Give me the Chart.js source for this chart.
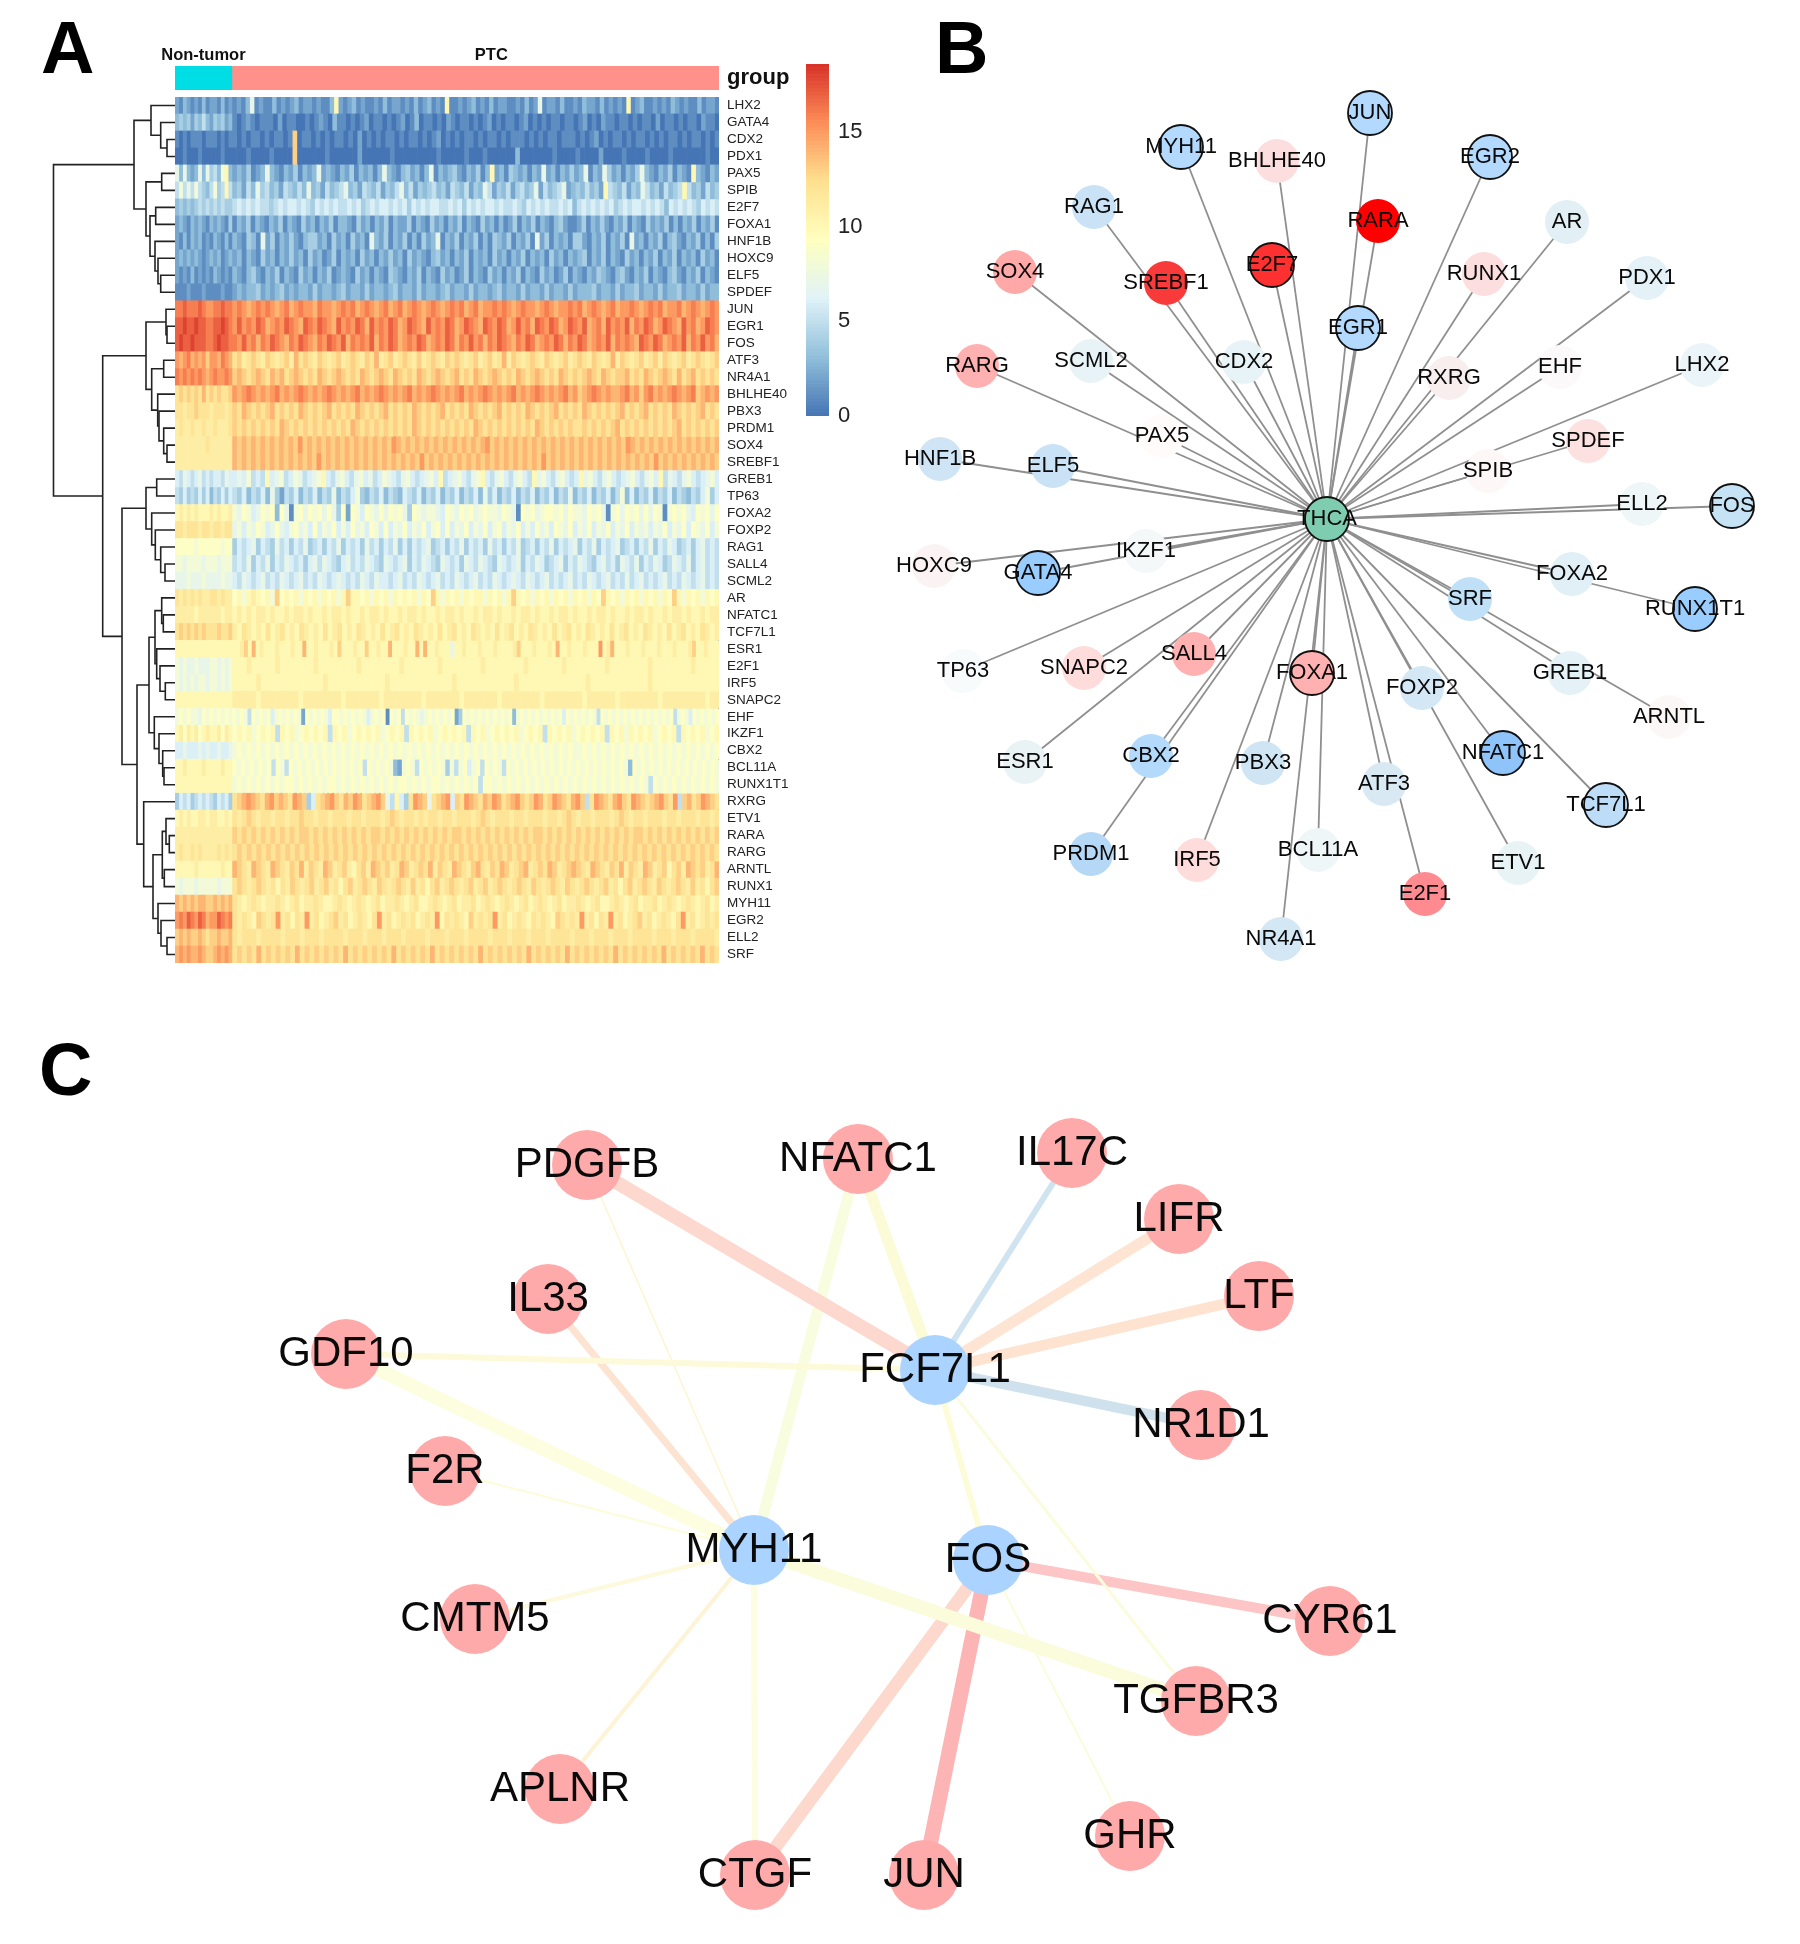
<!DOCTYPE html>
<html>
<head>
<meta charset="utf-8">
<title>Heatmap and networks</title>
<script src="https://cdn.jsdelivr.net/npm/chart.js@4/dist/chart.umd.min.js"></script>
<style>
  body { margin: 0; background: #fff; }
  #page { position: relative; width: 1800px; height: 1944px; overflow: hidden; font-family: "Liberation Sans", sans-serif; }
  #page canvas { position: absolute; }
  .letter { position: absolute; font-size: 74px; line-height: 74px; font-weight: bold; color: #000; }
</style>
</head>
<body>
<div id="page">
  <div class="letter" style="left:41px;top:11px">A</div>
  <div class="letter" style="left:935px;top:11px">B</div>
  <div class="letter" style="left:39px;top:1033px">C</div>
  <canvas id="dendro" width="135" height="866" style="left:40px;top:97px"></canvas>
  <canvas id="group" width="700" height="50" style="left:135px;top:40px"></canvas>
  <canvas id="heat" width="660" height="866" style="left:175px;top:97px"></canvas>
  <canvas id="scale" width="100" height="380" style="left:806px;top:50px"></canvas>
  <canvas id="netB" width="950" height="1000" style="left:850px;top:0"></canvas>
  <canvas id="netC" width="1800" height="944" style="left:0;top:1000px"></canvas>
</div>
<script>
Chart.defaults.font.family = '"Liberation Sans", sans-serif'
Chart.defaults.devicePixelRatio = 1
Chart.defaults.animation = false
Chart.defaults.responsive = false
Chart.defaults.plugins.legend.display = false
Chart.defaults.plugins.tooltip.enabled = false
Chart.defaults.events = []
Chart.defaults.layout.autoPadding = false

// panel A
const genes = ['LHX2', 'GATA4', 'CDX2', 'PDX1', 'PAX5', 'SPIB', 'E2F7', 'FOXA1', 'HNF1B', 'HOXC9', 'ELF5', 'SPDEF',
  'JUN', 'EGR1', 'FOS', 'ATF3', 'NR4A1', 'BHLHE40', 'PBX3', 'PRDM1', 'SOX4', 'SREBF1', 'GREB1', 'TP63', 'FOXA2',
  'FOXP2', 'RAG1', 'SALL4', 'SCML2', 'AR', 'NFATC1', 'TCF7L1', 'ESR1', 'E2F1', 'IRF5', 'SNAPC2', 'EHF', 'IKZF1',
  'CBX2', 'BCL11A', 'RUNX1T1', 'RXRG', 'ETV1', 'RARA', 'RARG', 'ARNTL', 'RUNX1', 'MYH11', 'EGR2', 'ELL2', 'SRF']
const groupNames = ['Non-tumor', 'PTC']
const groupCounts = [59, 505]
const colorbarTicks = [0, 5, 10, 15]
const colorbarMax = 18.6

// expression per gene, read column by column, one base-19 digit each (a=10 ... i=18); non-tumor block, space, PTC block
const heatRows = [
  '213212131221312 12137121131212312212113a212312112131221213123121a1121231213122112131271221311213221312121a12311212132121131221',
  '343424353243423 10121011102011001012103110101201101012013011010210110101201011012010101101101201021101101011020110101102110',
  '101011101110101 1010110101101d0110101011010201010110101101012010101101011010111010101101110101201011010110101011010110101',
  '001000100000100 0001000010000d0000001000000200000010000000001000001000100000030000000100001000020000100001000010000000100',
  '7373237374538a3 2324123732132413237232132413231373213423137132342132413a231432313272313242371327423132473213241321a32132',
  '5857585435845a5 34253745342543537342534573425435243573524345342543524375243524534725345723435342a5435243753425345a5342534',
  '343434545454544 5656565545656656546565655656456566565646565665565646565665655654656565565635656565645656656565365656546565',
  '232132321323214 1324132132413214231324133214231324132241321423132413214231312413241321342112413242132413214232413132413241',
  '213132312132131 3214317241324213442314231423173241324131423713241324131432413241724132314421324132417231324134213241314',
  '232323212323123 2313214231324231423124132314231324231423213423132413231423132413231423132341324132142313241324132314231',
  '212131212132121 3213421324132142313241232142313214321324132142312413214231324132142312413213243213421324132134213241321',
  '111211121111211 2323342323423233242332342332423323423324233234233242332342332423324233242333423324233423324233423324233',
  'gghggghgffgghgg fgfefgfgfefgefgffegffefgfgefgfefgefgefgfefgfefgfgefgeffgfgfefgffefgfeffgfgefgfefgeffgfefgfgeffgefgfefgf',
  'hhihhihhgghhihg fhfgfhgefgfhgfehgfhgfehfgfhgehfgfhgefhgfehfgfhgefhgfehgfhgefhfgehgfhgefhgfhefgehfgfhegfhgefhgfehfgefhgf',
  'hihhihhhgghihhg gfhfgegfhgfegfhgfegfhgfhegfgfhegfhgefgfhgefgfhgegfhfgegfhgfegfhgefgfhgegfhgefgfhegfgfehgfhgefgfhegfhfge',
  'fefgefefdffegfe cdbcdcbdcbcdbecdcbdcbcdbcdcbdcebcdbcdcbdbcdcbdcdcbcdbcdbcebdcbcdcbdcbcdbcdcbdcbcebdcbcdbcdbdcbcdbcdcbcd',
  'gfgfgfgfefgffgf dedcdedcedecdedcdcedcdedcdcedcdedcedcdcedcdedcdecdcedcdedcdcedcdedcdcedcdcdedcedcddecdcedcdedcecdecdcdc',
  'cdcdcdcecdcdccd fefgfefefgefefgfefefgfefefgefefgfefefgefefgfefefgefefgfefefgefefgfefefgefdefgfefeefgefdfgefefgfefgdefef',
  'ccbccdcccbcccbc dcedcdcdecdcdcedcdcdecdcdcedcdcdecdcdcedcdcdecdcdcedcdcdecdcdcedcdcdecdcdcedcdcdcdecdcdecdcdcedcdcdecdc',
  'bcbbcbbcbbcbbbc dcdcdcdcdcedcdcdcdcdcdcdcedcdcdcdcdcdcedcdcdcdcdcdcedcdcdcdcdcdcedcdcdcdccdcdcdcdecdcdcdcdcdcdecdcdcdcd',
  'bbbbbbbbcbbbbbb edededededededfdedededededededededfedededededededededefdededededededededededededededfededededededededede',
  'bbbbbbbbbbbbbbb edededededededededfdededededededededededfdededededededededededededfdedededededededededededfdedededededed',
  '657656756566576 6768565a67856875678a657865786756876578656786a56786578a6578657865a786578656a7865786567865786a576578656786',
  '546454646354646 5463546374254635463547354684354635436546354635463546374635463546354635473546354635836354635463543546846',
  'abababaaababaab 8798679893971897989797492986987979897498788769879897898879871989789989798879897189798979798189897698979',
  'ccbcccbccbccbcc 7868798679768978696879686978698696879687968969687968796896879686978698796879687968796878687968796987968',
  '999998999999899 4656746547564657456465746564756465746465674564657465647564657456465746567465746567456465746576456467565',
  '887888878887888 5657465746576564675765467565765476567465765476564765765476567465764567465765467564765746576457657467565',
  '777877787777877 6576567565765675657656765657657665675657656756576567565765676576567565675657656756575675656756576567565',
  'cbcbcbcbbccbcbb 9a8aba9a8d9a9a8a9a8a9a8adaa9a8a9a8a9a9a8a9da8a9a8a9aa8a9a8ada9a8a9a8a9a8a9a8a9da9a8a9a8a9a8a9da8a9a8a9a',
  'bbbbbabbbbbbabb abababbabaababbabaababbabaababbabaababbabaababbabaababbabaababbabaababbabaababbabaababbabaababbabaababb',
  'cdcdcdcdcccdccd bacbabacabcabacbabacabcabacbabacabcabacbabacabcabacbabacabcabacbabacabcabacbabacabcabacbabacabcabacbab',
  'aaaaaaaaaaaaaaa aabdaeabaaabaaabaaeaabaaabadaaabaadaabaaeaaabaaeaeaabaaa7aabaaabaaabaaaabdaaabaaabaeaabaaabaaafabeaaabaaabaaabaaabaaabdaabaaa',
  '878778777887878 aaabaaaaabaaaaaaabaaaaaaaabaaaaaaaabaaaaaaabaaaaaaaabaaaaaaaabaaaaaaabaaaaaaaabaaaaaaaabaaaaaaaabaaaaa',
  '878787887887878 aaaaabaaaaaaaaaaaaabaaaaaaaaaaaabaaaaaaaaaaaaabaaaaaaaaaaaabaaaaaaaaaaaaaabaaaaaaaaaaaabaaaaaaaaaaaaaa',
  'aaaaaaaaaaaaaaa bbbbbabbbbbbbbabbbbbbbbabbbbbbbabbbbbbbbabbbbbbbabbbbbbbabbbbbbbbabbbbbbbbabbbbbbabbbbbbbbabbbbbbbbbabb',
  '898988798989898 9898598989689898982989898699898989868989198959898789898989249898989898989389898989898969898989859898989898989898989589869898989',
  'ab9bab9abaab9ba 9a9a89a9a5a9a89a9a9a5a9a89a9a9a89a9a5a9a9a89a9a9a5a9a89a9a9a89a9a5a9a9a89a9a9a5a9a8a9a9a89a9a5a9a9a89a',
  '667666767667667 8989898989898989898989898989898989898989898989898989898989898989898989898898989898989898989898989898989',
  'aabaaaabaaaabaa 9898989895985989898989898989895989898328985989898485896895989859898989898989898989898989898398989898989898989898',
  'aaaaaaaaaaaaaaa 8989898989899898989899898989898989899898989989898989599898989898989898989898989898989898598989898989898',
  '465645656546564 cdefedcefdedcfed46cdefdcedfecdefd75a64cfed7cdef6dcfedcedfecdefdcdfecdfedcefd5cfedcefdcfedcdefdcf5decdfedc',
  'ababaabbabbaaba cbcdcbccbccbccdccbccbcccbccbcccbcdcbccbcbccbccbcccbcdcbcccbccbcccbccbcdcbccbcccbcdcbccbcccbccbcccbccbc',
  'bbbbbbbbbbbbbbb dcdcdcdcdcdcdcddcdcdcdcdcdcdcddcdcdcdcdcdcdcdcddcdcdcdcdcdcdcdcddcdcdcdcdcdcdcdcdcdcddcdcdcdcdcdcdcdcd',
  'bcbbcbcbbbbcbcb cdcdcdcdcdcdcdcdcdcdcdcdcdcdcdcdcdcdcdcdcdcdcdcdcdcdcdcdcdcdcdcdcdcdcdcdcdcdcdcdcdcdcdcdcdcdcdcdcdcdc',
  'aaaaabaaaaaabaa edcbedcbedcbdcebdcbedbcdbacdbedcdbcedbcdcebdcbedcbdecbdcedbcdebcdcedbcdedcbedcbdcebdcbedbcdacdbedcdbce',
  '878887888887888 cdcbcdcbcacbdcbcdbcdbcacdbcdcbdcbcdcbdbcacdbcdcbcdbcdbcdcbcdcbdcbcdcbdcbcdcbcdbcacdbcdcbdcbcdcbdbcacd',
  'edededeeddedede cbabcbabbcbabcabbcbaabcbabcbabcabbcbabcaabcbabcabbcabcbabcbabcabcbabcabbcbabcaabcbabcabbcabcbabcbabcab',
  'fgfhgfhgeffhgfg cbcbadcbcfbcacbfbcabcdbcabcbacfbcabcbcabcbfacbcbadbcbcfbcabcbacbcbadcbcbfbcacbfbcabcdbcabcbacfbcabcbc',
  'dededdedcddedde cbcccbccccbcccbcccbccccbcccbcccbcccbccccbcccbcccbccccbcccbcccbcccbccccbcccbcccbcccbccccbcccbcccbccccb',
  'efefeefeddefefe cdcdcecdcdcdcecdcdcdcdcecdcdcdcdcecdcdcdcecdcdcdcdcecdcdcdcdcecdcdcdcecdcdcdcdcecdcdcdcdcecdcdcdcecdc'
]

// cluster tree over the rows, top to bottom: [height, upper, lower], null is a leaf
const rowTree = [53.5,
  [134,
    [151, null, [160.7, null, [167, null, null]]],
    [146, [161.7, null, null], [150, [155.7, null, null], [155, null, [158, null, [160.7, null, null]]]]]],
  [102.7,
    [146,
      [166, null, [167, null, null]],
      [151.7, [163.7, null, null], [157.7, null, [159, null, [163.7, null, [167, null, null]]]]]],
    [122,
      [146,
        [156.7, null, null],
        [151.7, null, [155.3, null, [160.7, null, [165, null, null]]]]],
      [137,
        [149,
          [155, [161.7, null, [163.3, null, null]], [156.7, null, [160, null, [165.3, null, null]]]],
          [154.3, null, [159, null, [162.7, null, [164, null, null]]]]],
        [143.7,
          null,
          [153,
            [162.3, [166, null, [169.3, null, null]], [164.3, null, null]],
            [158, null, [161, null, [167, null, null]]]]]]]]]

// panel B
const bHub = { name: 'THCA', x: 1327, y: 519 }
const bNames = ['JUN', 'MYH11', 'BHLHE40', 'EGR2', 'RAG1', 'RARA', 'AR', 'E2F7', 'SOX4', 'SREBF1', 'RUNX1', 'PDX1',
  'EGR1', 'SCML2', 'CDX2', 'RXRG', 'EHF', 'LHX2', 'RARG', 'PAX5', 'SPDEF', 'SPIB', 'HNF1B', 'ELF5', 'ELL2', 'FOS',
  'IKZF1', 'HOXC9', 'GATA4', 'SRF', 'FOXA2', 'RUNX1T1', 'TP63', 'SNAPC2', 'SALL4', 'FOXA1', 'FOXP2', 'GREB1',
  'ARNTL', 'ESR1', 'CBX2', 'PBX3', 'ATF3', 'NFATC1', 'TCF7L1', 'PRDM1', 'IRF5', 'BCL11A', 'E2F1', 'ETV1', 'NR4A1']
const bX = [1370, 1181, 1277, 1490, 1094, 1378, 1567, 1272, 1015, 1166, 1484, 1647,
  1358, 1091, 1244, 1449, 1560, 1702, 977, 1162, 1588, 1488, 940, 1053, 1642, 1732,
  1146, 934, 1038, 1470, 1572, 1695, 963, 1084, 1194, 1312, 1422, 1570,
  1669, 1025, 1151, 1263, 1384, 1503, 1606, 1091, 1197, 1318, 1425, 1518, 1281]
const bY = [113, 147, 161, 157, 207, 221, 222, 265, 272, 283, 274, 278,
  328, 361, 362, 378, 367, 365, 366, 436, 441, 471, 459, 466, 504, 506,
  551, 566, 573, 599, 574, 609, 671, 668, 654, 673, 688, 673,
  717, 762, 756, 763, 784, 753, 805, 854, 860, 850, 894, 863, 939]
const bFill = ['#b3d9ff', '#b3d9ff', '#fddede', '#b3d9ff', '#c9e2f5', '#ff0000', '#e2f0f6', '#ff3030', '#ffa8a8', '#f83a3a', '#fddede', '#e4f1f7',
  '#b3d9ff', '#e8f3f8', '#e8f3f8', '#f8eeee', '#fbf9f9', '#ebf4f8', '#ffb0b0', '#fffbfb', '#fde0e0', '#fdf7f7', '#cfe5f5', '#c9e2f5', '#eef6f8', '#c6e2f5',
  '#f4f8f8', '#fbf3f3', '#99ccff', '#bfe0f7', '#e1eff6', '#99ccff', '#f8fbfb', '#ffdcdc', '#ffb0b0', '#ffb0b0', '#d3e7f5', '#e4f1f6',
  '#fcf7f7', '#e9f3f6', '#b3d9fb', '#cfe5f4', '#d8e9f4', '#8fc4fb', '#bddcf7', '#b5d8f6', '#ffdcdc', '#eef6f8', '#ff8a8f', '#e8f3f6', '#d3e7f5']
const bRinged = ['JUN', 'MYH11', 'EGR2', 'E2F7', 'EGR1', 'FOS', 'GATA4', 'RUNX1T1', 'FOXA1', 'NFATC1', 'TCF7L1']

// panel C
const cNames = ['FCF7L1', 'MYH11', 'FOS', 'PDGFB', 'NFATC1', 'IL17C', 'LIFR', 'LTF', 'IL33', 'GDF10', 'NR1D1', 'F2R',
  'CMTM5', 'CYR61', 'TGFBR3', 'APLNR', 'CTGF', 'JUN', 'GHR']
const cX = [935, 754, 988, 587, 858, 1072, 1179, 1259, 548, 346, 1201, 445, 475, 1330, 1196, 560, 755, 924, 1130]
const cY = [1370, 1550, 1560, 1165, 1159, 1153, 1219, 1296, 1299, 1354, 1425, 1471, 1619, 1621, 1701, 1789, 1875, 1875, 1836]
const cHubs = ['FCF7L1', 'MYH11', 'FOS']
const cEdgeFrom = ['FCF7L1', 'FCF7L1', 'FCF7L1', 'FCF7L1', 'FCF7L1', 'FCF7L1', 'FCF7L1', 'FCF7L1', 'FCF7L1',
  'MYH11', 'MYH11', 'MYH11', 'MYH11', 'MYH11', 'MYH11', 'MYH11', 'MYH11', 'MYH11',
  'FOS', 'FOS', 'FOS', 'FOS']
const cEdgeTo = ['PDGFB', 'NFATC1', 'IL17C', 'LIFR', 'LTF', 'NR1D1', 'GDF10', 'FOS', 'TGFBR3',
  'GDF10', 'IL33', 'PDGFB', 'NFATC1', 'F2R', 'CMTM5', 'APLNR', 'CTGF', 'TGFBR3',
  'CYR61', 'JUN', 'CTGF', 'GHR']
const cEdgeWeight = [14, 11, 6, 11, 11, 10, 6, 6, 3, 14, 7, 1.5, 11, 2, 4, 4, 6, 14, 10, 15, 13, 2]
const cEdgeColor = ['#fdd8cf', '#fbfbd8', '#cfe3f0', '#fee5d3', '#fee3d0', '#cfe1ec', '#fdfad9', '#fdfcd8', '#fbfcdd',
  '#fdfde0', '#fde3d1', '#fdf5d0', '#f9fde0', '#fcfcd8', '#fdf9dc', '#fdf3d6', '#fdfde2', '#fbfcdc',
  '#fdc5c5', '#fdb4b4', '#fdd8cd', '#fbfcdc']

// RdYlBu ramp used by the heatmap and its colour bar
const ramp = ['#4575b4', '#91bfdb', '#e0f3f8', '#ffffbf', '#fee090', '#fc8d59', '#d73027']
function heatColor (v) {
  const t = Math.min(v / colorbarMax, 1) * (ramp.length - 1)
  const i = Math.min(Math.floor(t), ramp.length - 2)
  const mix = (p) => {
    const a = parseInt(ramp[i].substr(p, 2), 16)
    const b = parseInt(ramp[i + 1].substr(p, 2), 16)
    return Math.round(a + (b - a) * (t - i))
  }
  return 'rgb(' + mix(1) + ',' + mix(3) + ',' + mix(5) + ')'
}

// fixes the right axis width and drops its label overhang so the plot areas line up
const fixedWidth = (w) => (scale) => {
  scale.width = w
  scale.paddingTop = 0
  scale.paddingBottom = 0
}

const totalSamples = groupCounts[0] + groupCounts[1]
const rowBlocks = heatRows.map((r) => r.split(' ').map((b) => b.split('').map((c) => parseInt(c, 19))))
const columnCount = Math.max(...rowBlocks.map((r) => r[0].length + r[1].length))
const heatDatasets = []
for (let c = 0; c < columnCount; c++) {
  heatDatasets.push({
    // each block spans its own group's samples
    data: rowBlocks.map(([nt, ptc]) => {
      if (c < nt.length) return groupCounts[0] / nt.length
      return c - nt.length < ptc.length ? groupCounts[1] / ptc.length : 0
    }),
    backgroundColor: rowBlocks.map(([nt, ptc]) => heatColor(c < nt.length ? nt[c] : (ptc[c - nt.length] || 0))),
    borderWidth: 0,
    barPercentage: 1,
    categoryPercentage: 1
  })
}

new Chart(document.getElementById('heat'), {
  type: 'bar',
  data: { labels: genes, datasets: heatDatasets },
  options: {
    indexAxis: 'y',
    layout: { padding: 0 },
    scales: {
      x: { stacked: true, min: 0, max: totalSamples, display: false },
      y: {
        stacked: true,
        position: 'right',
        grid: { display: false, drawTicks: false },
        border: { display: false },
        afterFit: fixedWidth(116),
        ticks: { autoSkip: false, padding: 8, color: '#222', font: { size: 13.5 } }
      }
    }
  }
})

new Chart(document.getElementById('group'), {
  type: 'bar',
  data: {
    labels: ['group'],
    datasets: [
      { data: [groupCounts[0]], backgroundColor: '#00dde4', barPercentage: 1, categoryPercentage: 1 },
      { data: [groupCounts[1]], backgroundColor: '#ff918a', barPercentage: 1, categoryPercentage: 1 }
    ]
  },
  options: {
    indexAxis: 'y',
    layout: { padding: { top: 26, left: 40 } },
    scales: {
      x: { stacked: true, min: 0, max: totalSamples, display: false },
      y: {
        stacked: true,
        position: 'right',
        grid: { display: false, drawTicks: false },
        border: { display: false },
        afterFit: fixedWidth(116),
        ticks: { padding: 8, color: '#111', font: { size: 22, weight: 'bold' } }
      }
    }
  },
  plugins: [{
    id: 'groupTitles',
    afterDraw (chart) {
      const { ctx, scales } = chart
      ctx.save()
      ctx.font = 'bold 16.5px "Liberation Sans"'
      ctx.fillStyle = '#111'
      ctx.textAlign = 'center'
      ctx.textBaseline = 'middle'
      ctx.fillText(groupNames[0], scales.x.getPixelForValue(groupCounts[0] / 2), 15)
      ctx.fillText(groupNames[1], scales.x.getPixelForValue(328), 15)
      ctx.restore()
    }
  }]
})

const scaleDatasets = []
for (let i = 0; i < 100; i++) {
  scaleDatasets.push({
    data: [colorbarMax / 100],
    backgroundColor: heatColor((i + 0.5) * colorbarMax / 100),
    borderWidth: 0,
    barPercentage: 1,
    categoryPercentage: 1
  })
}
new Chart(document.getElementById('scale'), {
  type: 'bar',
  data: { labels: ['scale'], datasets: scaleDatasets },
  options: {
    layout: { padding: { top: 14, bottom: 14 } },
    scales: {
      x: { stacked: true, display: false },
      y: {
        stacked: true,
        position: 'right',
        min: 0,
        max: colorbarMax,
        afterBuildTicks: (axis) => { axis.ticks = colorbarTicks.map((v) => ({ value: v })) },
        afterFit: fixedWidth(77),
        grid: { display: false, drawTicks: false },
        border: { display: false },
        ticks: { padding: 9, color: '#222', font: { size: 22 } }
      }
    }
  }
})

// walks the tree and gives one bracket per merge
function treeBrackets (node, state, out) {
  if (node === null) {
    state.row += 1
    return { x: 175, y: state.row - 0.5 }
  }
  const a = treeBrackets(node[1], state, out)
  const b = treeBrackets(node[2], state, out)
  out.push([{ x: a.x, y: a.y }, { x: node[0], y: a.y }, { x: node[0], y: b.y }, { x: b.x, y: b.y }])
  return { x: node[0], y: (a.y + b.y) / 2 }
}
const brackets = []
treeBrackets(rowTree, { row: 0 }, brackets)

new Chart(document.getElementById('dendro'), {
  type: 'scatter',
  data: {
    datasets: brackets.map((b) => ({
      data: b, showLine: true, borderColor: '#222', borderWidth: 1.6, pointRadius: 0, clip: false
    }))
  },
  options: {
    layout: { padding: 0 },
    scales: {
      x: { type: 'linear', min: 40, max: 175, display: false },
      y: { type: 'linear', min: 0, max: genes.length, reverse: true, display: false }
    }
  }
})

const nodeLabels = {
  id: 'nodeLabels',
  afterDatasetsDraw (chart, args, opts) {
    const { ctx } = chart
    const nodes = chart.getDatasetMeta(0).data
    ctx.save()
    ctx.font = opts.size + 'px "Liberation Sans"'
    ctx.fillStyle = '#0a0a0a'
    ctx.textAlign = 'center'
    ctx.textBaseline = 'middle'
    chart.data.datasets[0].names.forEach((name, i) => {
      ctx.fillText(name, nodes[i].x, nodes[i].y)
    })
    ctx.restore()
  }
}

// hub first so that it draws on top of the edges
const bAllNames = [bHub.name].concat(bNames)
new Chart(document.getElementById('netB'), {
  type: 'scatter',
  data: {
    datasets: [{
      names: bAllNames,
      data: [{ x: bHub.x, y: bHub.y }].concat(bNames.map((n, i) => ({ x: bX[i], y: bY[i] }))),
      pointRadius: 22,
      pointBackgroundColor: ['#7fcdb0'].concat(bFill),
      pointBorderColor: '#111',
      pointBorderWidth: bAllNames.map((n) => (n === bHub.name || bRinged.includes(n) ? 1.8 : 0)),
      clip: false
    }].concat(bNames.map((n, i) => ({
      data: [{ x: bHub.x, y: bHub.y }, { x: bX[i], y: bY[i] }],
      showLine: true,
      borderColor: '#8f8f8f',
      borderWidth: 1.8,
      pointRadius: 0
    })))
  },
  options: {
    layout: { padding: 0 },
    plugins: { nodeLabels: { size: 22 } },
    scales: {
      x: { type: 'linear', min: 850, max: 1800, display: false },
      y: { type: 'linear', min: 0, max: 1000, reverse: true, display: false }
    }
  },
  plugins: [nodeLabels]
})

const cPoint = (name) => {
  const i = cNames.indexOf(name)
  return { x: cX[i], y: cY[i] }
}
new Chart(document.getElementById('netC'), {
  type: 'scatter',
  data: {
    datasets: [{
      names: cNames,
      data: cNames.map(cPoint),
      pointRadius: 35,
      pointBackgroundColor: cNames.map((n) => (cHubs.includes(n) ? '#aad4ff' : '#ffaaaa')),
      pointBorderWidth: 0,
      clip: false
    }].concat(cEdgeFrom.map((from, i) => ({
      data: [cPoint(from), cPoint(cEdgeTo[i])],
      showLine: true,
      borderColor: cEdgeColor[i],
      borderWidth: cEdgeWeight[i],
      pointRadius: 0
    })))
  },
  options: {
    layout: { padding: 0 },
    plugins: { nodeLabels: { size: 42 } },
    scales: {
      x: { type: 'linear', min: 0, max: 1800, display: false },
      y: { type: 'linear', min: 1000, max: 1944, reverse: true, display: false }
    }
  },
  plugins: [nodeLabels]
})
</script>
</body>
</html>
